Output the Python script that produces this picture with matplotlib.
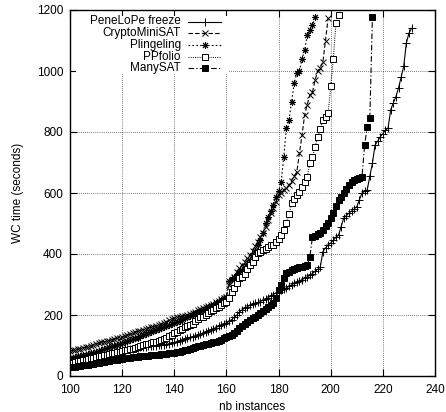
import numpy as np
import matplotlib
matplotlib.use("Agg")
import matplotlib.pyplot as plt
from matplotlib.patches import Rectangle

plt.rcParams['font.family'] = ['Liberation Sans', 'DejaVu Sans']
plt.rcParams['font.size'] = 8.5

# sorted solving times (seconds), one value per instance, starting at instance 100
penelope = [48, 50, 52, 54, 56, 58, 60, 62, 64, 66,
            67, 69, 71, 73, 75, 77, 79, 81, 83, 84,
            86, 87, 88, 89, 90, 92, 93, 94, 95, 96,
            97, 98, 99, 100, 101, 102, 103, 104, 106, 108,
            110, 113, 116, 119, 122, 125, 127, 129, 131, 134,
            137, 141, 145, 149, 152, 155, 159, 163, 167, 170,
            174, 179, 185, 192, 200, 210, 217, 222, 227, 232,
            235, 238, 241, 244, 248, 252, 257, 262, 267, 272,
            276, 281, 285, 289, 294, 299, 304, 308, 312, 316,
            320, 325, 330, 336, 343, 350, 357, 408, 420, 430,
            436, 445, 455, 462, 490, 518, 526, 534, 541, 548,
            555, 577, 600, 605, 610, 655, 698, 757, 770, 784,
            795, 805, 813, 872, 895, 916, 944, 980, 1015, 1091,
            1124, 1140]

cryptominisat = [82, 84, 86, 88, 90, 92, 94, 96, 99, 102,
                 105, 108, 110, 112, 114, 116, 119, 121, 124, 126,
                 128, 131, 134, 137, 140, 143, 146, 149, 152, 155,
                 158, 160, 162, 164, 166, 170, 174, 178, 182, 186,
                 190, 192, 194, 196, 198, 200, 203, 207, 211, 215,
                 219, 222, 225, 228, 233, 237, 241, 246, 251, 255,
                 260, 300, 315, 325, 340, 354, 365, 375, 386, 397,
                 410, 425, 440, 455, 469, 490, 512, 534, 550, 570,
                 593, 600, 610, 618, 626, 640, 655, 669, 731, 790,
                 856, 890, 921, 931, 970, 1000, 1010, 1030, 1100, 1173]

plingeling = [58, 60, 62, 64, 66, 68, 70, 72, 74, 77,
              79, 82, 85, 88, 91, 94, 97, 100, 103, 106,
              108, 111, 114, 117, 120, 123, 126, 130, 134, 138,
              142, 145, 148, 151, 154, 157, 160, 164, 167, 170,
              173, 177, 181, 185, 189, 193, 197, 201, 205, 209,
              213, 217, 221, 225, 229, 233, 238, 243, 249, 255,
              260, 310, 318, 325, 332, 340, 348, 358, 368, 379,
              390, 410, 430, 446, 470, 502, 521, 540, 560, 587,
              605, 637, 719, 813, 839, 900, 960, 993, 1000, 1040,
              1068, 1118, 1135, 1150, 1177]

ppfolio = [42, 44, 46, 48, 50, 52, 54, 56, 58, 60,
           62, 64, 66, 68, 70, 72, 74, 76, 78, 80,
           82, 84, 86, 88, 90, 92, 95, 98, 101, 104,
           106, 108, 110, 112, 115, 118, 122, 126, 131, 136,
           141, 145, 150, 155, 160, 164, 167, 170, 180, 188,
           192, 195, 200, 206, 212, 217, 222, 227, 233, 238,
           242, 255, 275, 290, 305, 321, 323, 335, 350, 365,
           375, 390, 403, 407, 412, 418, 423, 428, 430, 438,
           450, 462, 480, 502, 530, 566, 580, 593, 604, 620,
           637, 653, 698, 719, 750, 784, 810, 839, 850, 861,
           950, 1040, 1157, 1184]

manysat = [28, 30, 31, 32, 33, 35, 36, 37, 38, 40,
           42, 43, 45, 46, 48, 49, 51, 52, 54, 55,
           57, 58, 59, 60, 61, 62, 63, 64, 65, 66,
           67, 68, 69, 70, 70, 71, 72, 73, 74, 75,
           76, 78, 80, 82, 84, 86, 89, 91, 94, 97,
           100, 102, 104, 106, 108, 110, 113, 116, 119, 123,
           127, 131, 136, 141, 149, 157, 163, 170, 177, 183,
           189, 195, 201, 206, 213, 220, 227, 233, 239, 255,
           282, 300, 320, 337, 342, 346, 350, 354, 356, 358,
           361, 364, 390, 456, 460, 465, 469, 480, 491, 502,
           518, 534, 556, 577, 588, 600, 612, 625, 637, 642,
           645, 650, 653, 757, 817, 845, 1178]

first_instance = 100

series = [
    ("PeneLoPe freeze", penelope, dict(ls='-', marker='+', ms=5.5, mfc='black')),
    ("CryptoMiniSAT", cryptominisat, dict(ls=(0, (4, 2)), marker='x', ms=4, mfc='black')),
    ("Plingeling", plingeling, dict(ls=(0, (1.5, 2)), marker=(8, 2, 0), ms=5, mfc='black')),
    ("PPfolio", ppfolio, dict(ls=(0, (0.8, 1.2)), marker='s', ms=4.3, mfc='white')),
    ("ManySAT", manysat, dict(ls=(0, (5, 2, 1.2, 2)), marker='s', ms=4.6, mfc='black')),
]

fig = plt.figure(figsize=(4.46, 4.12), dpi=100)
ax = fig.add_axes([70 / 446, 36 / 412, 365 / 446, 366 / 412])

for label, times, style in series:
    x = np.arange(first_instance, first_instance + len(times))
    ax.plot(x, times, color='black', lw=0.8, mec='black', mew=0.7, zorder=3, **style)

ax.set_xlim(100, 240)
ax.set_ylim(0, 1200)
ax.set_xticks(np.arange(100, 241, 20))
ax.set_yticks(np.arange(0, 1201, 200))
ax.tick_params(direction='in', length=5, width=0.8, top=True, right=True)
ax.tick_params(axis='x', pad=6)
ax.tick_params(axis='y', pad=5)
ax.set_axisbelow(True)
ax.grid(True, color='black', ls=(0, (1, 2)), lw=0.5)
for sp in ax.spines.values():
    sp.set_linewidth(1.0)

ax.set_xlabel("nb instances", labelpad=3)
ax.set_ylabel("WC time (seconds)", labelpad=9)

# gnuplot style key: opaque box, text right aligned, sample on the right
def ax_x(px):
    return (px - 70) / 365

def ax_y(py):
    return (376 - py) / 366

ax.add_patch(Rectangle((ax_x(76), ax_y(74)), ax_x(229) - ax_x(76), ax_y(16) - ax_y(74),
                       transform=ax.transAxes, facecolor='white', edgecolor='none', zorder=1))
rows = [21.5, 33, 45, 56.5, 68]
for (label, times, style), py in zip(series, rows):
    yk = ax_y(py)
    ax.text(ax_x(181), yk, label, ha='right', va='center', transform=ax.transAxes, zorder=4)
    ax.plot([ax_x(188), ax_x(204.5), ax_x(221)], [yk, yk, yk], transform=ax.transAxes,
            color='black', lw=0.8, mec='black', mew=0.7, markevery=[1],
            clip_on=False, zorder=4, **style)

fig.savefig("out.png", dpi=100)
